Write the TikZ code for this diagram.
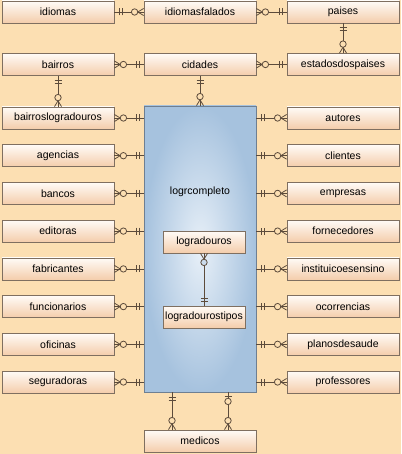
\documentclass[tikz,border=0pt]{standalone}
\usepackage{fontspec}
\setmainfont{Liberation Sans}
\definecolor{bgc}{HTML}{FCDFB2}
\definecolor{entb}{HTML}{7F6F60}
\definecolor{enttop}{HTML}{FFFBF7}
\definecolor{entbot}{HTML}{F4CDAB}
\definecolor{relc}{HTML}{5C4B3B}
\definecolor{mainb}{HTML}{6E7F92}
\definecolor{mainout}{HTML}{A6C2DE}
\definecolor{mainin}{HTML}{E8F0F8}
\begin{document}
\begin{tikzpicture}[x=1pt,y=1pt,
  entity/.style={rectangle, draw=entb, line width=0.8pt, top color=enttop, bottom color=entbot,
    minimum width=112pt, minimum height=22pt, inner sep=0pt, font=\fontsize{10.5}{12}\selectfont, text=black},
  mainbox/.style={rectangle, draw=mainb, line width=0.8pt, inner color=mainin, outer color=mainout,
    minimum width=112pt, minimum height=286pt, inner sep=0pt},
  rel/.style={draw=relc, line width=0.8pt},
  pone/.pic={\draw[rel] (4.5,-3.5) -- (4.5,3.5) (7.5,-3.5) -- (7.5,3.5);},
  pmany/.pic={\draw[rel] (0,3.5) -- (5.8,0) -- (0,-3.5); \draw[rel, fill=bgc] (9,0) circle (3.2);},
  pzo/.pic={\draw[rel] (3.5,-3.5) -- (3.5,3.5); \draw[rel, fill=bgc] (9,0) circle (3.2);},
  pmanyin/.pic={\draw[rel] (0,3.5) -- (5.8,0) -- (0,-3.5); \draw[rel, fill=mainout!60!white] (9,0) circle (3.2);}
]
\fill[bgc] (0,0) rectangle (401,-454);
\useasboundingbox (0,0) rectangle (401,-454);

% main box
\node[mainbox] (logr) at (200,-249) {};
\node[font=\fontsize{10.5}{12}\selectfont] (lbl) at (200,-192) {logrcompleto};

% top rows
\node[entity] (idiomas) at (58,-12) {idiomas};
\node[entity] (idiomasfalados) at (200,-12) {idiomasfalados};
\node[entity] (paises) at (343,-12) {paises};
\node[entity] (bairros) at (58,-64.5) {bairros};
\node[entity] (cidades) at (200,-64.5) {cidades};
\node[entity] (estados) at (343,-64.5) {estadosdospaises};

% left column
\node[entity] (bairroslog) at (58,-118) {bairroslogradouros};
\node[entity] (agencias) at (58,-155.7) {agencias};
\node[entity] (bancos) at (58,-193.4) {bancos};
\node[entity] (editoras) at (58,-231.1) {editoras};
\node[entity] (fabricantes) at (58,-268.9) {fabricantes};
\node[entity] (funcionarios) at (58,-306.6) {funcionarios};
\node[entity] (oficinas) at (58,-344.3) {oficinas};
\node[entity] (seguradoras) at (58,-382) {seguradoras};

% right column
\node[entity] (autores) at (343,-118) {autores};
\node[entity] (clientes) at (343,-155.7) {clientes};
\node[entity] (empresas) at (343,-193.4) {empresas};
\node[entity] (fornecedores) at (343,-231.1) {fornecedores};
\node[entity] (instituicoes) at (343,-268.9) {instituicoesensino};
\node[entity] (ocorrencias) at (343,-306.6) {ocorrencias};
\node[entity] (planos) at (343,-344.3) {planosdesaude};
\node[entity] (professores) at (343,-382) {professores};

% inner boxes
\node[entity, minimum width=82pt] (logradouros) at (204,-242) {logradouros};
\node[entity, minimum width=82pt] (logtipos) at (204,-317) {logradourostipos};

% medicos
\node[entity] (medicos) at (200,-441) {medicos};

% connectors
\draw[rel] (idiomas.east) -- (idiomasfalados.west);
\pic at (idiomas.east) {pone};
\pic[rotate=180] at (idiomasfalados.west) {pmany};

\draw[rel] (idiomasfalados.east) -- (paises.west);
\pic at (idiomasfalados.east) {pmany};
\pic[rotate=180] at (paises.west) {pone};

\draw[rel] (bairros.east) -- (cidades.west);
\pic at (bairros.east) {pmany};
\pic[rotate=180] at (cidades.west) {pone};

\draw[rel] (cidades.east) -- (estados.west);
\pic at (cidades.east) {pmany};
\pic[rotate=180] at (estados.west) {pone};

\draw[rel] (paises.south) -- (estados.north);
\pic[rotate=-90] at (paises.south) {pone};
\pic[rotate=90] at (estados.north) {pmany};

\draw[rel] (bairros.south) -- (bairroslog.north);
\pic[rotate=-90] at (bairros.south) {pone};
\pic[rotate=90] at (bairroslog.north) {pmany};

\draw[rel] (cidades.south) -- (logr.north);
\pic[rotate=-90] at (cidades.south) {pone};
\pic[rotate=90] at (logr.north) {pmany};

\foreach \n in {bairroslog,agencias,bancos,editoras,fabricantes,funcionarios,oficinas,seguradoras}{
  \draw[rel] (\n.east) -- (\n.east -| logr.west);
  \pic at (\n.east) {pmany};
  \pic[rotate=180] at (\n.east -| logr.west) {pone};
}
\foreach \n in {autores,clientes,empresas,fornecedores,instituicoes,ocorrencias,planos,professores}{
  \draw[rel] (\n.west -| logr.east) -- (\n.west);
  \pic at (\n.west -| logr.east) {pone};
  \pic[rotate=180] at (\n.west) {pmany};
}

\draw[rel] (logradouros.south) -- (logtipos.north);
\pic[rotate=-90] at (logradouros.south) {pmanyin};
\pic[rotate=90] at (logtipos.north) {pone};

\coordinate (mA) at ([xshift=-28pt]logr.south);
\coordinate (mB) at ([xshift=28pt]logr.south);
\coordinate (mC) at ([xshift=-28pt]medicos.north);
\coordinate (mD) at ([xshift=28pt]medicos.north);
\draw[rel] (mA) -- (mC);
\draw[rel] (mB) -- (mD);
\pic[rotate=-90] at (mA) {pone};
\pic[rotate=-90] at (mB) {pzo};
\pic[rotate=90] at (mC) {pmany};
\pic[rotate=90] at (mD) {pmany};
\end{tikzpicture}
\end{document}
